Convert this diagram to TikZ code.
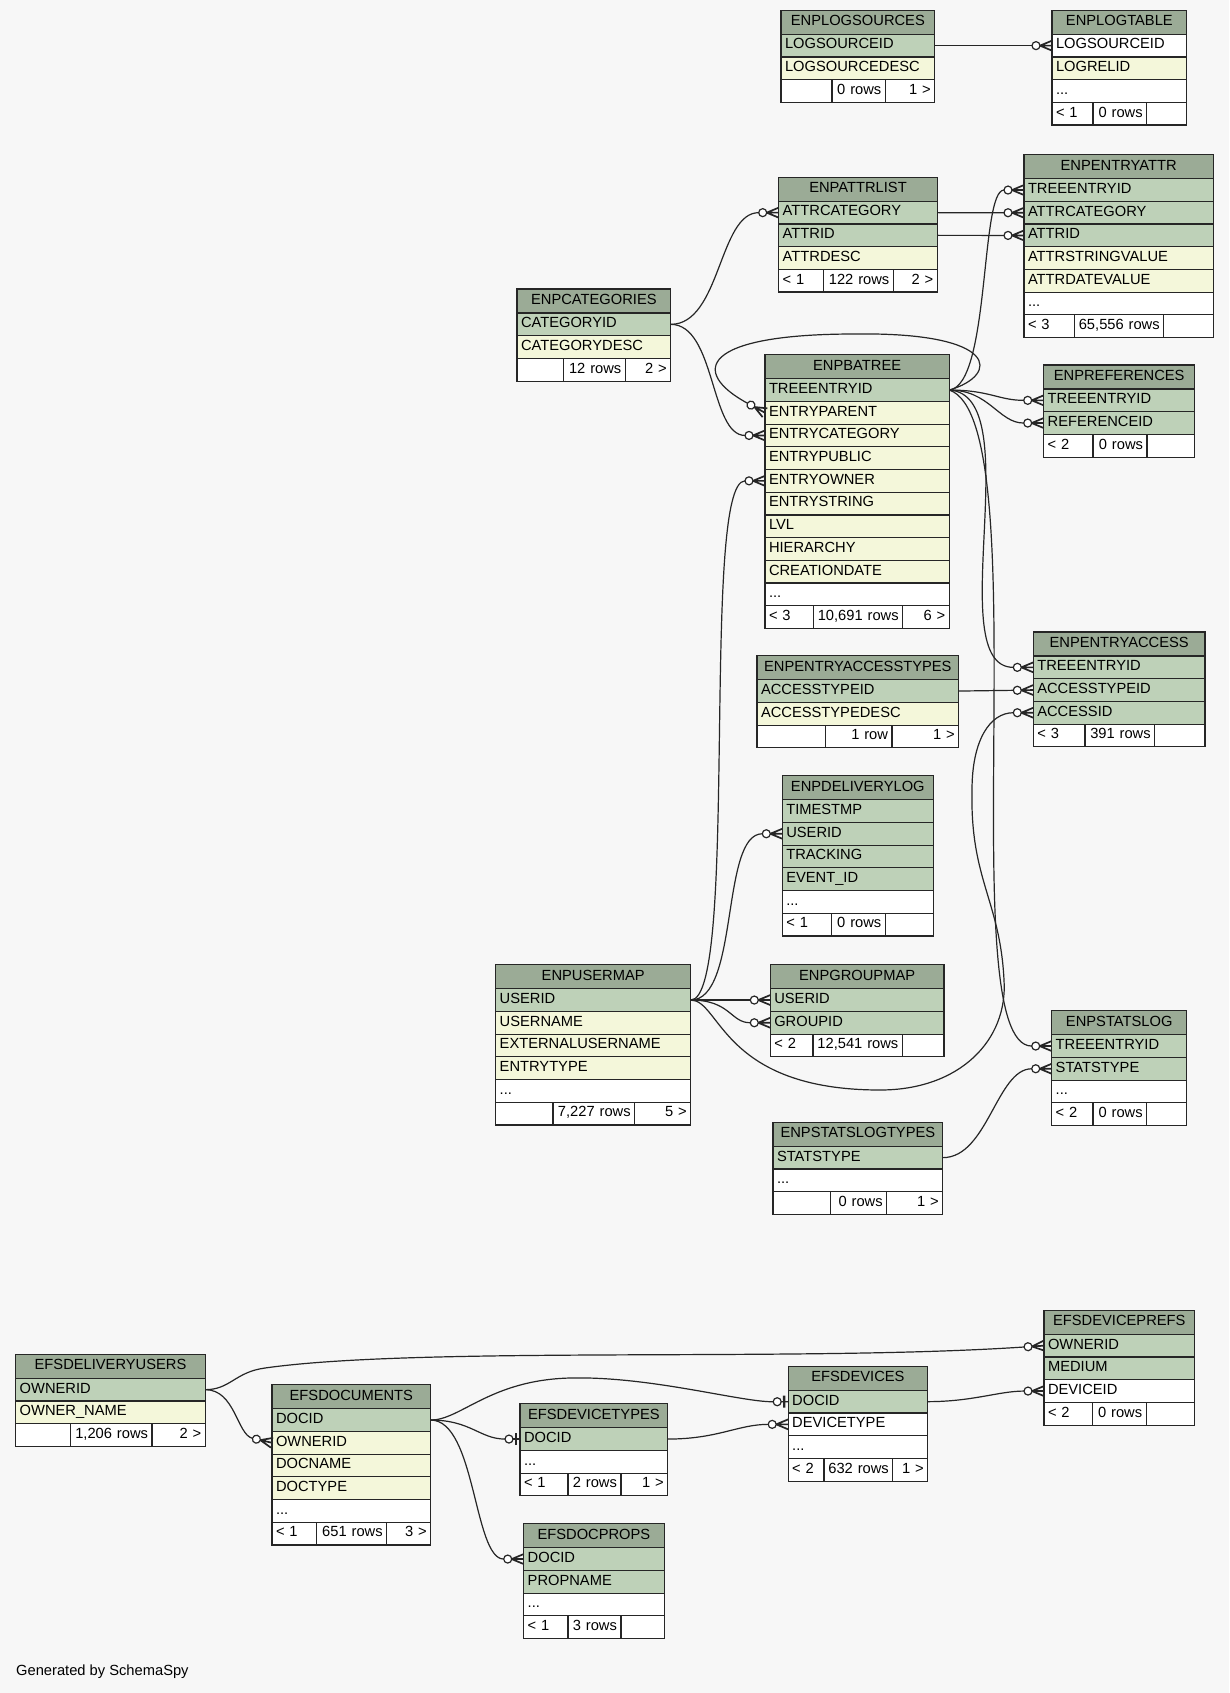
\documentclass[tikz,border=0pt]{standalone}
\usepackage{fontspec}
\setmainfont{Liberation Sans}
\usetikzlibrary{positioning}

\definecolor{bgcol}{HTML}{F7F7F7}
\definecolor{headcol}{HTML}{9BAB96}
\definecolor{pk}{HTML}{BED1B8}
\definecolor{fd}{HTML}{F4F7DA}
\definecolor{linecol}{HTML}{262626}

\newcommand{\erfont}{\fontsize{14.7pt}{17pt}\selectfont}
\newcommand{\erdots}{...}

% crow's foot with a ring, and bar with a ring
\pgfdeclarearrow{
  name=crowo,
  setup code={
    \pgfarrowssettipend{0pt}
    \pgfarrowssetlineend{-20pt}
    \pgfarrowssetvisualbackend{-20pt}
    \pgfarrowssetbackend{-20pt}
  },
  drawing code={
    \pgfsetlinewidth{1.7pt}
    \pgfpathmoveto{\pgfpoint{-12pt}{0pt}}\pgfpathlineto{\pgfpoint{0pt}{5pt}}
    \pgfpathmoveto{\pgfpoint{-12pt}{0pt}}\pgfpathlineto{\pgfpoint{0pt}{0pt}}
    \pgfpathmoveto{\pgfpoint{-12pt}{0pt}}\pgfpathlineto{\pgfpoint{0pt}{-5pt}}
    \pgfusepathqstroke
    \pgfsetlinewidth{1.2pt}
    \pgfpathcircle{\pgfpoint{-16pt}{0pt}}{4pt}
    \pgfsetfillcolor{white}
    \pgfusepathqfillstroke
  }
}
\pgfdeclarearrow{
  name=teeo,
  setup code={
    \pgfarrowssettipend{0pt}
    \pgfarrowssetlineend{-15pt}
    \pgfarrowssetvisualbackend{-15pt}
    \pgfarrowssetbackend{-15pt}
  },
  drawing code={
    \pgfsetlinewidth{2.4pt}
    \pgfpathmoveto{\pgfpoint{-4pt}{-6pt}}\pgfpathlineto{\pgfpoint{-4pt}{6pt}}
    \pgfusepathqstroke
    \pgfsetlinewidth{1.2pt}
    \pgfpathmoveto{\pgfpoint{-7pt}{0pt}}\pgfpathlineto{\pgfpoint{0pt}{0pt}}
    \pgfusepathqstroke
    \pgfpathcircle{\pgfpoint{-11pt}{0pt}}{4pt}
    \pgfsetfillcolor{white}
    \pgfusepathqfillstroke
  }
}

\tikzset{
  cell/.style={draw=linecol, line width=1.2pt, outer sep=0pt, inner xsep=4pt, inner ysep=0pt,
    text height=10.6pt, text depth=3.9pt, minimum height=22.7pt, font=\erfont},
  tabhead/.style={cell, fill=headcol, minimum height=24pt, align=center},
  row/.style={cell, align=left},
  foot/.style={cell, fill=white},
  link/.style={draw=linecol, line width=1.2pt},
  tomany/.style={-crowo},
  toone/.style={-teeo}
}

% table: id, x, y, width, title, rows (colour/name)
\newcommand{\ertable}[6]{%
  \pgfmathsetmacro{\ertw}{#4-8}%
  \node[tabhead, text width=\ertw pt, anchor=north west] (#1-0) at (#2,#3) {#5};
  \foreach \fc/\fld [count=\i] in {#6} {
    \pgfmathtruncatemacro{\prev}{\i-1}
    \node[row, fill=\fc, text width=\ertw pt, below=0pt of #1-\prev] (#1-\i) {\fld};
    \coordinate (#1-end) at (#1-\i.south west);
  }
}
% footer: id, width, divider 1, divider 2, left, middle, right
\newcommand{\erfoot}[7]{%
  \pgfmathsetmacro{\erfa}{#3-8}\pgfmathsetmacro{\erfb}{#4-#3-8}\pgfmathsetmacro{\erfc}{#2-#4-8}%
  \node[foot, align=left, text width=\erfa pt, anchor=north west] (#1-fl) at (#1-end) {#5};
  \node[foot, align=right, text width=\erfb pt, right=0pt of #1-fl] (#1-fm) {\mbox{#6}};
  \node[foot, align=right, text width=\erfc pt, right=0pt of #1-fm] (#1-fr) {\mbox{#7}};
}

\begin{document}
\begin{tikzpicture}[x=1pt, y=-1pt]
\useasboundingbox (0,0) rectangle (1229,1693);
\fill[bgcol] (0,0) rectangle (1229,1693);

\ertable{logsrc}{781}{10.3}{153.7}{ENPLOGSOURCES}{pk/LOGSOURCEID, fd/LOGSOURCEDESC}
\erfoot{logsrc}{153.7}{51}{104.3}{}{0 rows}{1 >}
\ertable{logtab}{1052}{10.3}{134.7}{ENPLOGTABLE}{white/LOGSOURCEID, fd/LOGRELID, white/\erdots}
\erfoot{logtab}{134.7}{41}{94.7}{< 1}{0 rows}{}
\ertable{entattr}{1024}{154.7}{189.3}{ENPENTRYATTR}{pk/TREEENTRYID, pk/ATTRCATEGORY, pk/ATTRID, fd/ATTRSTRINGVALUE, fd/ATTRDATEVALUE, white/\erdots}
\erfoot{entattr}{189.3}{50.7}{139.7}{< 3}{65,556 rows}{}
\ertable{attrlist}{778.7}{177.3}{158.6}{ENPATTRLIST}{pk/ATTRCATEGORY, pk/ATTRID, fd/ATTRDESC}
\erfoot{attrlist}{158.6}{44.6}{114.6}{< 1}{122 rows}{2 >}
\ertable{cats}{517}{289}{153.7}{ENPCATEGORIES}{pk/CATEGORYID, fd/CATEGORYDESC}
\erfoot{cats}{153.7}{46.7}{108.3}{}{12 rows}{2 >}
\ertable{batree}{765}{354.7}{184.3}{ENPBATREE}{pk/TREEENTRYID, fd/ENTRYPARENT, fd/ENTRYCATEGORY, fd/ENTRYPUBLIC, fd/ENTRYOWNER, fd/ENTRYSTRING, fd/LVL, fd/HIERARCHY, fd/CREATIONDATE, white/\erdots}
\erfoot{batree}{184.3}{48.3}{137.7}{< 3}{10,691 rows}{6 >}
\ertable{refs}{1043.7}{365}{151}{ENPREFERENCES}{pk/TREEENTRYID, pk/REFERENCEID}
\erfoot{refs}{151}{49.3}{103.3}{< 2}{0 rows}{}
\ertable{acctypes}{757}{655.7}{201.7}{ENPENTRYACCESSTYPES}{pk/ACCESSTYPEID, fd/ACCESSTYPEDESC}
\erfoot{acctypes}{201.7}{68.3}{135}{}{1 row}{1 >}
\ertable{access}{1033.3}{632}{171.7}{ENPENTRYACCESS}{pk/TREEENTRYID, pk/ACCESSTYPEID, pk/ACCESSID}
\erfoot{access}{171.7}{51.7}{121.4}{< 3}{391 rows}{}
\ertable{dlog}{782.3}{775.7}{151}{ENPDELIVERYLOG}{pk/TIMESTMP, pk/USERID, pk/TRACKING, pk/EVENT\_ID, white/\erdots}
\erfoot{dlog}{151}{49.4}{103}{< 1}{0 rows}{}
\ertable{umap}{495.7}{964.7}{195}{ENPUSERMAP}{pk/USERID, fd/USERNAME, fd/EXTERNALUSERNAME, fd/ENTRYTYPE, white/\erdots}
\erfoot{umap}{195}{57.3}{139}{}{7,227 rows}{5 >}
\ertable{gmap}{770.3}{964.7}{173.7}{ENPGROUPMAP}{pk/USERID, pk/GROUPID}
\erfoot{gmap}{173.7}{42.7}{132}{< 2}{12,541 rows}{}
\ertable{slog}{1051.7}{1010.7}{135}{ENPSTATSLOG}{pk/TREEENTRYID, pk/STATSTYPE, white/\erdots}
\erfoot{slog}{135}{41.3}{95}{< 2}{0 rows}{}
\ertable{sltypes}{773}{1122.3}{169.7}{ENPSTATSLOGTYPES}{pk/STATSTYPE, white/\erdots}
\erfoot{sltypes}{169.7}{57.7}{113.7}{}{0 rows}{1 >}

\ertable{dusers}{15.7}{1354.3}{189.6}{EFSDELIVERYUSERS}{pk/OWNERID, fd/OWNER\_NAME}
\erfoot{dusers}{189.6}{55}{136.3}{}{1,206 rows}{2 >}
\ertable{docs}{272}{1384.7}{158.7}{EFSDOCUMENTS}{pk/DOCID, fd/OWNERID, fd/DOCNAME, fd/DOCTYPE, white/\erdots}
\erfoot{docs}{158.7}{44.7}{114.7}{< 1}{651 rows}{3 >}
\ertable{devtypes}{520}{1403.7}{147.8}{EFSDEVICETYPES}{pk/DOCID, white/\erdots}
\erfoot{devtypes}{147.8}{47.9}{100.9}{< 1}{2 rows}{1 >}
\ertable{devices}{788.2}{1366.3}{139.5}{EFSDEVICES}{pk/DOCID, white/DEVICETYPE, white/\erdots}
\erfoot{devices}{139.5}{35.8}{104.6}{< 2}{632 rows}{1 >}
\ertable{devprefs}{1044}{1310.3}{150.6}{EFSDEVICEPREFS}{pk/OWNERID, pk/MEDIUM, white/DEVICEID}
\erfoot{devprefs}{150.6}{48.7}{102.2}{< 2}{0 rows}{}
\ertable{docprops}{523.7}{1523.7}{140.4}{EFSDOCPROPS}{pk/DOCID, pk/PROPNAME, white/\erdots}
\erfoot{docprops}{140.4}{44.2}{97.2}{< 1}{3 rows}{}

\node[font=\erfont, inner sep=0pt, anchor=west] (credit) at (16,1672) {Generated by SchemaSpy};

\draw[link, tomany] (logsrc-1.east) -- (logtab-1.west);
\draw[link, tomany] (cats-1.east) .. controls +(50,0) and +(-60,0) .. (attrlist-1.west);
\draw[link, tomany] (cats-1.east) .. controls +(45,0) and +(-55,0) .. (batree-3.west);
\draw[link, tomany] (attrlist-1.east) -- (entattr-2.west);
\draw[link, tomany] (attrlist-2.east) -- (entattr-3.west);
\draw[link, tomany] (batree-1.east) .. controls +(41,-5) and +(-44,0) .. (entattr-1.west);
\draw[link, tomany] (batree-1.east) .. controls (1000,375) and (1000,332) .. (855,334)
  .. controls (700,334) and (690,372) .. (batree-2.west);
\draw[link, tomany] (batree-1.east) .. controls +(40,0) and +(-45,0) .. (refs-1.west);
\draw[link, tomany] (batree-1.east) .. controls +(40,0) and +(-45,0) .. (refs-2.west);
\draw[link, tomany] (batree-1.east) .. controls +(81,5) and +(-93,0) .. (access-1.west);
\draw[link, tomany] (batree-1.east) .. controls +(91,30) and +(-102,0) .. (slog-1.west);
\draw[link, tomany] (acctypes-1.east) -- (access-2.west);
\draw[link, tomany] (umap-1.east) .. controls +(49,0) and +(-65,0) .. (batree-5.west);
\draw[link, tomany] (umap-1.east) .. controls +(49,0) and +(-62,0) .. (dlog-2.west);
\draw[link, tomany] (umap-1.east) -- (gmap-1.west);
\draw[link, tomany] (umap-1.east) .. controls +(40,0) and +(-40,0) .. (gmap-2.west);
\draw[link, tomany] (umap-1.east) .. controls +(30,0) and (722,1090) .. (880,1090)
  .. controls (960,1090) and (1008,1040) .. (1004,980)
  .. controls (1000,900) and (970,880) .. (972,790)
  .. controls (972,740) and (990,712.7) .. (access-3.west);
\draw[link, tomany] (sltypes-1.east) .. controls +(45,0) and +(-55,0) .. (slog-2.west);

\draw[link, tomany] (dusers-1.east) .. controls +(25,0) and (235,1372) .. (265,1368)
  .. controls (420,1346) and (800,1362) .. (devprefs-1.west);
\draw[link, tomany] (dusers-1.east) .. controls +(30,0) and +(-35,-8) .. (docs-2.west);
\draw[link, toone] (docs-1.east) .. controls +(30,0) and (490,1380) .. (570,1378)
  .. controls (650,1376) and (740,1402) .. (devices-1.west);
\draw[link, toone] (docs-1.east) .. controls +(40,0) and +(-40,0) .. (devtypes-1.west);
\draw[link, tomany] (docs-1.east) .. controls +(45,0) and +(-50,0) .. (docprops-1.west);
\draw[link, tomany] (devtypes-1.east) .. controls +(50,0) and +(-50,0) .. (devices-2.west);
\draw[link, tomany] (devices-1.east) .. controls +(45,0) and +(-45,0) .. (devprefs-3.west);
\end{tikzpicture}
\end{document}
